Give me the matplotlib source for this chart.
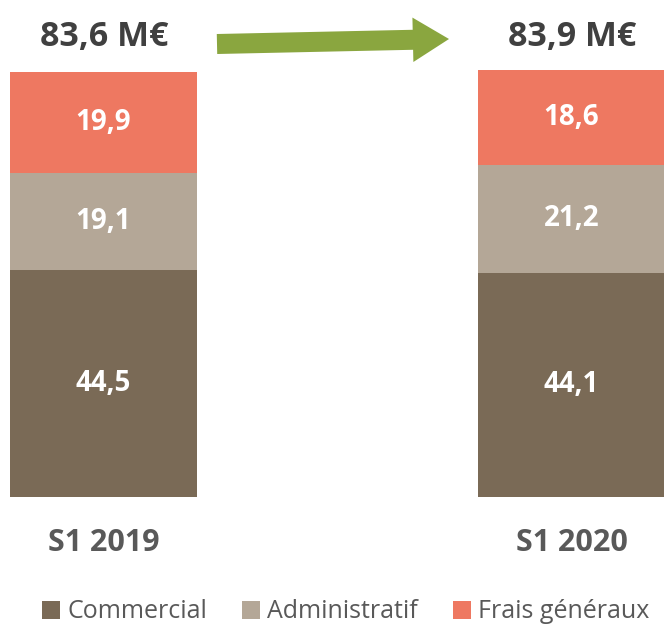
import matplotlib
matplotlib.use("Agg")
import matplotlib.pyplot as plt
import numpy as np
from matplotlib.patches import FancyArrowPatch, Patch

periods = ["S1 2019", "S1 2020"]
totals = ["83,6 M€", "83,9 M€"]
series = ["Commercial", "Administratif", "Frais généraux"]
commercial = [44.5, 44.1]
administratif = [19.1, 21.2]
frais = [19.9, 18.6]

colors = ["#7A6A56", "#B4A797", "#EE7861"]
FONT = "Open Sans"

W, H = 664, 627
fig = plt.figure(figsize=(W / 100, H / 100), dpi=100)

# axes placed so that bars land where the reference has them
px_unit = 5.09
bottom_px = 497
ymax = 90
ax = fig.add_axes([0, (H - bottom_px) / H, 1, ymax * px_unit / H])
ax.set_ylim(0, ymax)
ax.set_xlim(-103.5 / 468, (W - 103.5) / 468)
ax.axis("off")

x = np.arange(len(periods))
width = 187 / 468
base = np.zeros(len(periods))
for vals, col in zip([commercial, administratif, frais], colors):
    bars = ax.bar(x, vals, width, bottom=base, color=col, edgecolor="none")
    for xi, b, v in zip(x, base, vals):
        ax.text(xi, b + v / 2, f"{v:.1f}".replace(".", ","), ha="center", va="center",
                color="white", fontsize=20, fontweight="bold", family=FONT)
    base = base + np.array(vals)

for xi, t in zip(x, totals):
    fig.text((104 + xi * 468) / W, 1 - 37 / H, t, ha="center", va="center",
             color="#404040", fontsize=24.5, fontweight="bold", family=FONT)
    fig.text((104 + xi * 468) / W, 1 - 543 / H, periods[xi], ha="center", va="center",
             color="#595959", fontsize=22, fontweight="bold", family=FONT)

arrow = FancyArrowPatch((217 / W, 1 - 44 / H), (449 / W, 1 - 39 / H),
                        transform=fig.transFigure, shrinkA=0, shrinkB=0,
                        arrowstyle="simple,head_width=1.6,head_length=1.3,tail_width=0.72",
                        mutation_scale=20, color="#8AA63F", lw=0)
fig.patches.append(arrow)

handles = [Patch(facecolor=c, edgecolor="none") for c in colors]
fig.legend(handles, series, loc="center", bbox_to_anchor=(0.521, 1 - 612 / H), ncol=3,
           frameon=False, handlelength=0.7, handleheight=0.7, handletextpad=0.3,
           columnspacing=1.4, prop={"family": FONT, "size": 18}, labelcolor="#595959")

fig.savefig("out.png", dpi=100)
